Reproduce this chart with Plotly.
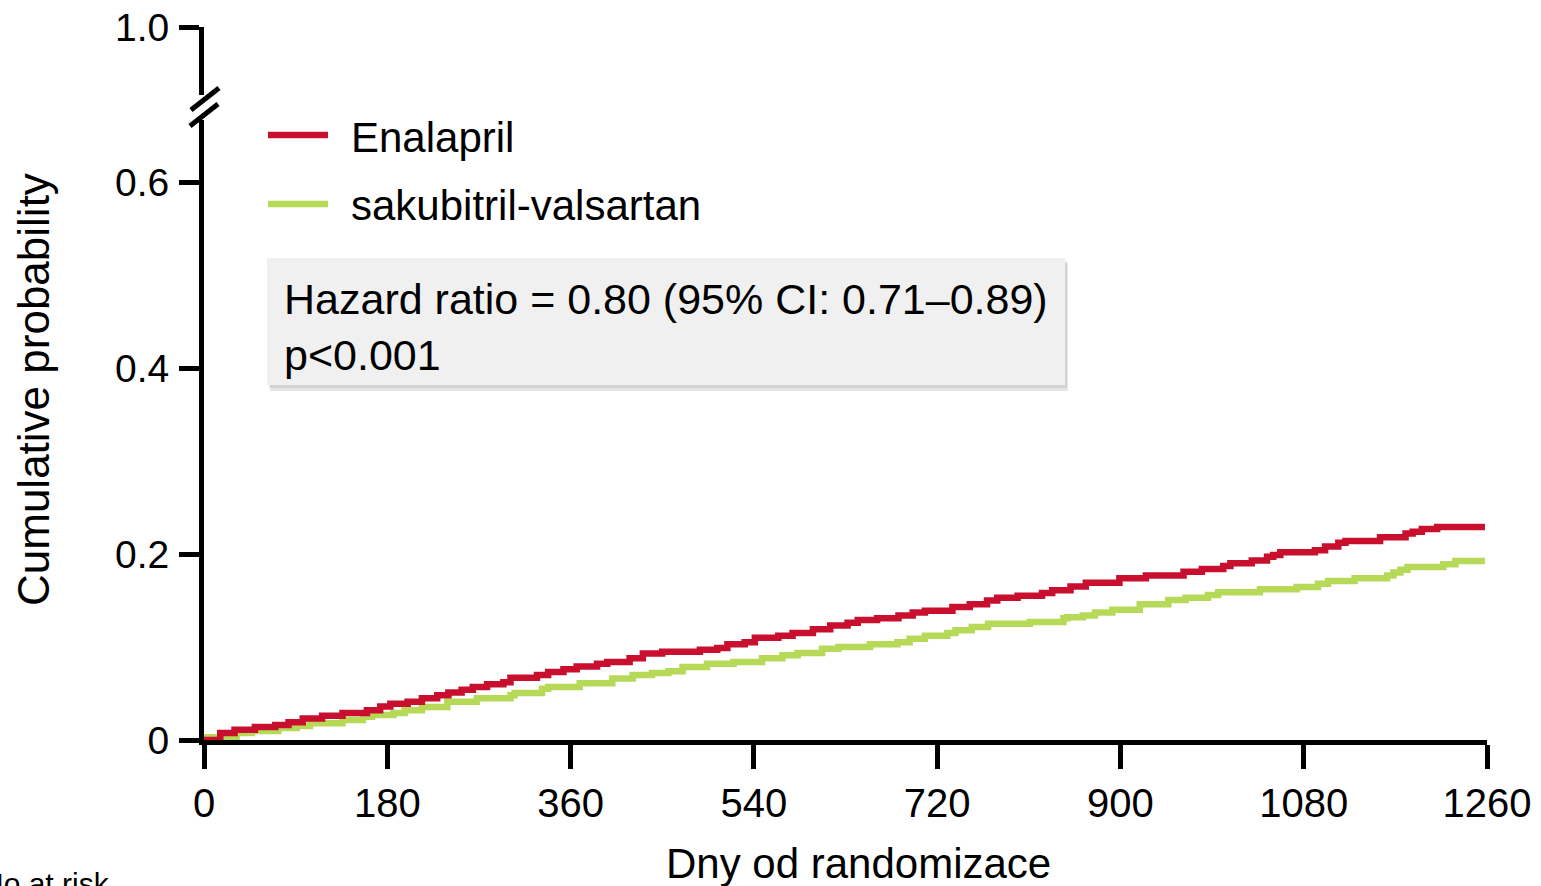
import plotly.graph_objects as go

# ---- data ----
enalapril_days = [0, 16, 30, 50, 70, 83, 97, 116, 136, 160, 173, 183, 200, 214, 229, 240, 253, 264, 278, 294,
                  301, 327, 338, 353, 366, 386, 396, 418, 431, 450, 487, 504, 514, 531, 541, 564, 578, 598, 615, 632,
                  642, 661, 682, 696, 708, 735, 752, 769, 779, 799, 823, 833, 851, 866, 899, 925, 962, 980, 1001, 1008,
                  1029, 1044, 1050, 1057, 1091, 1101, 1114, 1121, 1155, 1180, 1187, 1196, 1211, 1258]
enalapril_prob = [0, .0075, .011, .014, .016, .019, .023, .026, .029, .032, .036, .039, .041, .045, .048, .051, .054, .057, .060, .062,
                  .067, .070, .073, .076, .079, .082, .084, .088, .093, .095, .097, .099, .103, .105, .110, .112, .115, .119, .123, .126,
                  .129, .131, .134, .137, .139, .143, .146, .150, .153, .155, .158, .161, .165, .169, .174, .177, .181, .184, .187, .190,
                  .193, .197, .199, .202, .204, .208, .212, .214, .218, .222, .224, .227, .229, .229]

sacval_days = [0, 2, 32, 47, 73, 91, 104, 136, 156, 165, 186, 197, 214, 239, 268, 301, 305, 332, 338, 369,
               401, 421, 440, 456, 470, 494, 520, 548, 568, 583, 607, 623, 654, 681, 693, 708, 730, 738, 754, 770,
               811, 844, 848, 863, 875, 892, 919, 947, 964, 986, 996, 1037, 1073, 1094, 1104, 1130, 1162, 1168, 1175, 1182,
               1217, 1229, 1258]
sacval_prob = [0, .003, .0075, .0097, .013, .015, .018, .0215, .025, .027, .029, .032, .0355, .041, .045, .048, .0505, .055, .057, .061,
               .066, .070, .072, .074, .0785, .082, .084, .088, .091, .0935, .098, .100, .103, .105, .109, .112, .115, .118, .1215, .125,
               .127, .131, .132, .134, .137, .140, .146, .1505, .153, .156, .159, .162, .1645, .168, .171, .174, .177, .180, .183, .186,
               .189, .1925, .1925]

series_names = ["Enalapril", "sakubitril-valsartan"]
x_ticks = [0, 180, 360, 540, 720, 900, 1080, 1260]
y_low_ticks = [0, 0.2, 0.4, 0.6]
y_low_labels = ["0", "0.2", "0.4", "0.6"]
y_high_ticks = [1.0]
y_high_labels = ["1.0"]

RED = "#c8102e"
GREEN = "#b6da58"
FONT = "Liberation Sans, Arial, sans-serif"

# ---- geometry ----
W, H = 1541, 886
ML, MR, MT, MB = 204, 54, 27, 146
PW, PH = W - ML - MR, H - MT - MB


def px(xp):
    return (xp - ML) / PW


def py(yp):
    return (H - MB - yp) / PH


fig = go.Figure()
fig.add_trace(go.Scatter(x=sacval_days, y=sacval_prob, mode="lines", name=series_names[1],
                         line=dict(color=GREEN, width=6.5, shape="hv"), showlegend=False,
                         xaxis="x", yaxis="y"))
fig.add_trace(go.Scatter(x=enalapril_days, y=enalapril_prob, mode="lines", name=series_names[0],
                         line=dict(color=RED, width=6.5, shape="hv"), showlegend=False,
                         xaxis="x", yaxis="y"))

low_top = py(120)
high_bot = py(95)
scale = 930.0  # px per unit

axis_common = dict(showline=True, linecolor="black", linewidth=5, ticks="outside",
                   tickcolor="black", tickwidth=5, showgrid=False, zeroline=False)

fig.update_layout(
    width=W, height=H,
    margin=dict(l=ML, r=MR, t=MT, b=MB, autoexpand=False),
    paper_bgcolor="white", plot_bgcolor="white",
    font=dict(family=FONT, color="black"),
    xaxis=dict(range=[0, 1260], tickvals=x_ticks, ticklen=24, anchor="y",
               ticklabelstandoff=0, tickfont=dict(family=FONT, size=40, color="black"),
               **axis_common),
    yaxis=dict(domain=[0, low_top], range=[0, (low_top * PH) / scale],
               tickvals=y_low_ticks, ticktext=y_low_labels, ticklen=20, anchor="x",
               ticklabelstandoff=2, tickfont=dict(family=FONT, size=39, color="black"),
               **axis_common),
    yaxis2=dict(domain=[high_bot, 1], range=[1.0 - ((1 - high_bot) * PH) / scale, 1.0],
                tickvals=y_high_ticks, ticktext=y_high_labels, ticklen=20, anchor="x",
                ticklabelstandoff=2, tickfont=dict(family=FONT, size=39, color="black"),
                **axis_common),
    showlegend=False,
)

# invisible trace to activate yaxis2
fig.add_trace(go.Scatter(x=[None], y=[None], xaxis="x", yaxis="y2", showlegend=False))

# axis break marks
for (x0, y0, x1, y1) in [(190, 126, 218, 104), (191, 110, 219, 88)]:
    fig.add_shape(type="line", xref="paper", yref="paper", x0=px(x0), y0=py(y0), x1=px(x1), y1=py(y1),
                  line=dict(color="black", width=5))

# legend (drawn manually to match spacing)
for name, color, yy in [(series_names[0], RED, 135), (series_names[1], GREEN, 204)]:
    fig.add_shape(type="line", xref="paper", yref="paper", x0=px(268), x1=px(328), y0=py(yy), y1=py(yy),
                  line=dict(color=color, width=6.5))
    fig.add_annotation(xref="paper", yref="paper", x=px(349), y=py(yy + 2), xanchor="left", yanchor="middle",
                       text=name, showarrow=False, font=dict(family=FONT, size=42, color="black"))

# hazard box: shadow + background + text
fig.add_shape(type="rect", xref="paper", yref="paper", x0=px(270), y0=py(263), x1=px(1068), y1=py(391),
              fillcolor="rgba(0,0,0,0.10)", line=dict(width=0), layer="above")
fig.add_shape(type="rect", xref="paper", yref="paper", x0=px(269), y0=py(261), x1=px(1067), y1=py(388),
              fillcolor="rgba(0,0,0,0.08)", line=dict(width=0), layer="above")
fig.add_shape(type="rect", xref="paper", yref="paper", x0=px(267), y0=py(258), x1=px(1065), y1=py(385),
              fillcolor="#f0f0f0", line=dict(width=0), layer="above")

fig.add_annotation(xref="paper", yref="paper", x=px(282), y=py(327), xanchor="left", yanchor="middle",
                   text="Hazard ratio = 0.80 (95% CI: 0.71–0.89)<br>p<0.001", showarrow=False,
                   align="left", font=dict(family=FONT, size=43, color="black"))

# axis titles
fig.add_annotation(xref="paper", yref="paper", x=px(33), y=py(390), xanchor="center", yanchor="middle",
                   text="Cumulative probability", textangle=-90, showarrow=False,
                   font=dict(family=FONT, size=44, color="black"))
fig.add_annotation(xref="paper", yref="paper", x=px(858), y=py(863), xanchor="center", yanchor="middle",
                   text="Dny od randomizace", showarrow=False, font=dict(family=FONT, size=42, color="black"))
fig.add_annotation(xref="paper", yref="paper", x=px(112), y=py(883), xanchor="right", yanchor="middle",
                   text="No at risk", showarrow=False, font=dict(family=FONT, size=30, color="black"))

fig.write_html("out.html")
